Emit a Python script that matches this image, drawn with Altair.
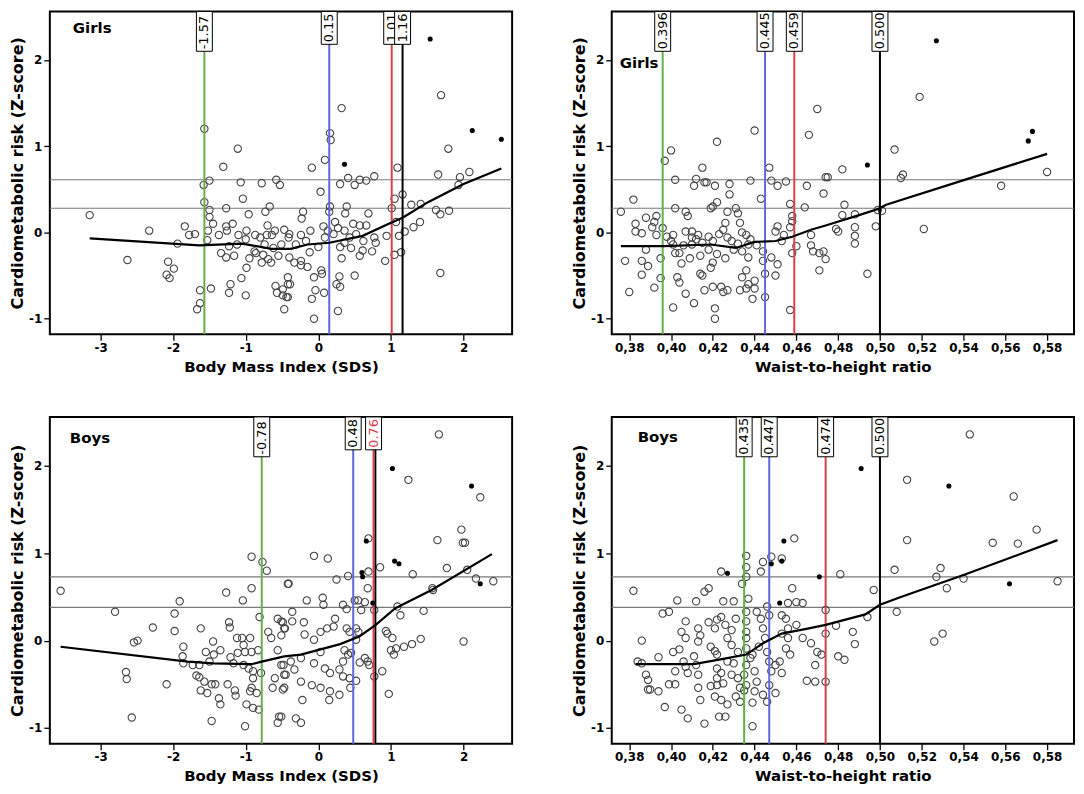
import altair as alt
import pandas as pd

FONT = "DejaVu Sans"
Y_TITLE = "Cardiometabolic risk (Z-score)"
Y_TICKS = [-1, 0, 1, 2]
Y_DOMAIN = [-1.18, 2.56]
BMI_DOMAIN = [-3.63, 2.6]
WHTR_DOMAIN = [0.374, 0.5905]
BMI_TICKS = [-3, -2, -1, 0, 1, 2]
WHTR_TICKS = [0.38, 0.40, 0.42, 0.44, 0.46, 0.48, 0.50, 0.52, 0.54, 0.56, 0.58]

# ---------------- Girls, BMI ----------------
g_bmi_open = [
    (-3.15, 0.20), (-2.33, 0.02), (-2.63, -0.32), (-1.84, 0.07), (-1.78, -0.03), (-1.70, -0.02),
    (-1.94, -0.13), (-2.07, -0.34), (-1.99, -0.42), (-2.09, -0.49), (-2.05, -0.53),
    (-1.57, 1.20), (-1.11, 0.97), (-1.31, 0.76), (-1.50, 0.60), (-1.58, 0.55), (-1.57, 0.35),
    (-1.50, 0.26), (-1.50, 0.18), (-1.27, 0.28), (-1.07, 0.58), (-0.78, 0.57), (-0.58, 0.61),
    (-0.53, 0.55), (-1.04, 0.39), (-0.96, 0.21), (-0.73, 0.24), (-0.67, 0.30),
    (-1.52, 0.02), (-1.37, -0.03), (-1.27, 0.07), (-1.26, 0.02), (-1.53, -0.09), (-1.34, -0.24),
    (-1.27, -0.29), (-1.16, -0.27), (-1.23, -0.16), (-1.12, -0.14), (-1.00, -0.08),
    (-1.10, -0.03), (-0.99, 0.02), (-0.87, -0.03), (-0.80, -0.06), (-0.71, -0.03), (-0.64, -0.03),
    (-0.60, 0.02), (-0.86, -0.24), (-0.76, -0.26), (-0.69, -0.31), (-0.65, -0.35), (-0.78, -0.35),
    (-0.99, -0.41), (-1.06, -0.53), (-1.21, -0.60), (-1.23, -0.70), (-1.00, -0.73), (-1.48, -0.65),
    (-1.63, -0.67), (-1.63, -0.82), (-1.67, -0.89), (-0.59, -0.62), (-0.57, -0.70), (-0.49, -0.73),
    (-0.42, -0.60), (-0.44, -0.75), (-0.47, -0.89), (-0.47, 0.03), (-0.41, -0.06), (-0.51, -0.14),
    (-0.88, -0.22), (-0.74, -0.14), (-0.62, -0.18), (-0.55, -0.27), (-0.95, -0.30), (-0.70, 0.08),
    (-1.18, 0.10), (-1.45, 0.10),
    (1.69, 1.59), (1.79, 0.97), (1.65, 0.67), (1.95, 0.64), (2.08, 0.70), (1.93, 0.55), (1.62, 0.26),
    (1.68, 0.21), (1.80, 0.25), (1.68, -0.47), (1.41, 0.33), (1.28, 0.32), (1.31, 0.06), (1.40, 0.12),
    (1.16, 0.44), (1.05, 0.39), (1.09, 0.75), (1.01, 0.28), (1.07, 0.12), (1.19, 0.01), (1.14, -0.23),
    (1.05, -0.26), (1.11, -0.04), (0.94, -0.04), (0.92, -0.33),
    (0.32, 1.44), (0.16, 1.15), (0.17, 1.07), (0.09, 0.84), (-0.09, 0.75), (0.30, 0.56), (0.41, 0.63),
    (0.50, 0.55), (0.57, 0.61), (0.66, 0.60), (0.77, 0.65), (0.03, 0.47), (0.16, 0.30), (0.15, 0.24),
    (0.39, 0.30), (0.37, 0.22), (0.69, 0.22), (-0.21, 0.24), (-0.23, 0.16),
    (0.66, 0.08), (0.57, 0.08), (0.48, 0.10), (0.23, 0.12), (0.07, 0.07), (-0.11, 0.02), (-0.24, -0.03),
    (-0.40, -0.02), (0.77, -0.06), (0.79, -0.12), (0.74, -0.22), (0.61, -0.21), (0.57, -0.27),
    (0.43, -0.06), (0.36, -0.12), (0.30, -0.17), (0.32, -0.30), (0.21, -0.02), (0.09, -0.06),
    (0.00, -0.17), (-0.12, -0.23), (-0.17, -0.10), (-0.31, -0.14),
    (0.04, -0.44), (0.05, -0.48), (-0.06, -0.52), (0.29, -0.51), (0.50, -0.50), (0.30, -0.63),
    (0.25, -0.60), (-0.42, -0.52), (-0.39, -0.60), (-0.49, -0.66), (-0.42, -0.75), (-0.09, -0.77),
    (-0.04, -0.67), (0.08, -0.70), (-0.06, -1.00), (0.27, -0.91),
    (-0.24, -0.33), (-0.33, -0.35), (-0.24, -0.38), (-0.15, -0.40), (-0.40, -0.29),
    (0.13, 0.02), (0.27, 0.05), (0.36, 0.02), (0.52, -0.02), (0.62, -0.10), (0.45, -0.18),
]
g_bmi_filled = [(1.54, 2.24), (2.12, 1.18), (2.52, 1.08), (0.36, 0.79)]
g_bmi_line_x = [-3.15, -1.64, -1.05, -0.65, -0.38, -0.15, 0.15, 0.61, 0.97, 1.16, 1.51, 2.00, 2.52]
g_bmi_line_y = [-0.07, -0.15, -0.13, -0.19, -0.19, -0.14, -0.12, -0.04, 0.10, 0.17, 0.35, 0.56, 0.74]
g_bmi_cuts = [-1.57, 0.15, 1.01, 1.16]
g_bmi_labels = ["-1.57", "0.15", "1.01", "1.16"]
g_bmi_hlines = [0.61, 0.28]

# ---------------- Girls, WHtR ----------------
g_whtr_open = [
    (0.376, 0.24), (0.382, 0.38), (0.383, 0.01), (0.378, -0.33), (0.380, -0.69), (0.386, -0.01),
    (0.386, -0.33), (0.389, -0.39), (0.386, -0.49), (0.388, 0.17), (0.391, 0.06), (0.393, -0.03),
    (0.393, 0.19), (0.392, -0.64), (0.395, -0.53), (0.397, 0.83), (0.400, 0.95), (0.402, 0.61),
    (0.402, 0.28), (0.401, -0.03), (0.401, -0.14), (0.400, -0.10), (0.402, -0.24), (0.404, -0.24),
    (0.405, -0.36), (0.403, -0.52), (0.404, -0.58), (0.401, -0.87), (0.407, 0.24), (0.408, 0.19),
    (0.407, 0.01), (0.410, 0.01), (0.410, -0.06), (0.413, -0.03), (0.410, -0.14), (0.407, -0.71),
    (0.411, -0.82), (0.411, 0.54), (0.412, 0.62), (0.416, 0.58), (0.417, 0.58), (0.415, 0.75),
    (0.421, 0.54), (0.420, 0.30), (0.419, 0.28), (0.422, 0.35), (0.422, 1.05), (0.426, 0.11),
    (0.427, 0.24), (0.428, 0.44), (0.428, 0.56), (0.431, 0.28), (0.432, 0.22), (0.433, 0.11),
    (0.436, -0.03), (0.437, -0.14), (0.434, -0.22), (0.437, -0.29), (0.414, -0.48), (0.415, -0.50),
    (0.416, -0.67), (0.419, -0.41), (0.420, -0.35), (0.420, -0.63), (0.424, -0.63), (0.425, -0.69),
    (0.421, -0.88), (0.421, -1.00), (0.427, -0.67), (0.433, -0.67), (0.436, -0.65), (0.437, -0.60),
    (0.440, -0.56), (0.440, -0.65), (0.439, -0.77), (0.434, -0.52), (0.436, -0.44), (0.438, 0.60),
    (0.440, 1.18), (0.443, 0.39), (0.447, 0.75), (0.448, 0.60), (0.451, 0.54), (0.455, 0.59),
    (0.445, -0.75), (0.444, -0.22), (0.444, -0.33), (0.445, -0.48), (0.448, -0.29), (0.450, -0.50),
    (0.451, -0.37), (0.450, 0.01), (0.451, 0.07), (0.454, -0.03), (0.453, -0.10), (0.457, 0.33),
    (0.458, 0.19), (0.458, 0.13), (0.457, 0.06), (0.458, -0.24), (0.460, -0.16), (0.457, -0.90),
    (0.465, 0.54), (0.464, 0.29), (0.466, 1.13), (0.470, 1.43), (0.474, 0.64), (0.473, 0.45),
    (0.467, -0.03), (0.467, -0.15), (0.468, -0.22), (0.471, -0.24), (0.473, -0.22), (0.471, -0.44),
    (0.412, -0.08), (0.415, -0.12), (0.418, -0.05), (0.420, -0.10), (0.423, -0.02), (0.425, 0.03),
    (0.427, -0.06), (0.429, -0.10), (0.430, -0.20), (0.432, -0.13), (0.418, -0.20), (0.414, -0.27),
    (0.422, -0.25), (0.426, -0.30), (0.409, -0.30), (0.406, -0.15), (0.434, 0.00), (0.438, -0.08),
    (0.441, -0.15), (0.398, -0.05), (0.396, 0.05), (0.392, 0.12), (0.383, 0.10), (0.388, -0.20),
    (0.395, -0.30),
    (0.519, 1.57), (0.507, 0.96), (0.482, 0.73), (0.475, 0.64), (0.511, 0.67), (0.510, 0.63),
    (0.580, 0.70), (0.558, 0.54), (0.483, 0.32), (0.482, 0.20), (0.488, 0.21), (0.499, 0.26),
    (0.501, 0.25), (0.498, 0.07), (0.479, 0.04), (0.480, 0.01), (0.488, 0.06), (0.488, -0.04),
    (0.488, -0.13), (0.521, 0.04), (0.474, -0.31), (0.494, -0.48),
]
g_whtr_filled = [(0.527, 2.22), (0.494, 0.78), (0.571, 1.06), (0.573, 1.17)]
g_whtr_line_x = [0.376, 0.397, 0.419, 0.431, 0.440, 0.450, 0.458, 0.467, 0.474, 0.490, 0.499, 0.503, 0.542, 0.580]
g_whtr_line_y = [-0.16, -0.16, -0.14, -0.18, -0.11, -0.10, -0.05, 0.03, 0.08, 0.20, 0.27, 0.32, 0.62, 0.91]
g_whtr_cuts = [0.396, 0.445, 0.459, 0.500]
g_whtr_labels = ["0.396", "0.445", "0.459", "0.500"]
g_whtr_hlines = [0.61, 0.28]

# ---------------- Boys, BMI ----------------
b_bmi_open = [
    (-3.55, 0.57), (-2.80, 0.33), (-2.54, -0.02), (-2.49, 0.00), (-2.28, 0.15), (-2.65, -0.36),
    (-2.64, -0.44), (-2.57, -0.88), (-2.09, -0.50), (-1.91, 0.45), (-1.98, 0.31), (-1.98, 0.11),
    (-1.86, -0.07), (-1.87, -0.18), (-1.86, -0.26), (-1.62, 0.14), (-1.23, 0.21), (-1.22, 0.15),
    (-1.27, 0.55), (-1.04, 0.46), (-0.92, 0.60), (-0.92, 0.96), (-0.77, 0.90), (-0.71, 0.80),
    (-0.42, 0.65), (-0.81, 0.27), (-1.45, -0.01), (-1.55, -0.13), (-1.44, -0.16), (-1.35, -0.11),
    (-1.50, -0.24), (-1.64, -0.28), (-1.73, -0.28), (-1.68, -0.40), (-1.64, -0.42), (-1.57, -0.47),
    (-1.47, -0.50), (-1.42, -0.50), (-1.62, -0.57), (-1.53, -0.60), (-1.37, -0.66), (-1.35, -0.73),
    (-1.25, -0.50), (-1.15, -0.57), (-1.14, -0.63), (-1.47, -0.92), (-1.01, -0.98), (-0.99, -0.73),
    (-0.90, -0.77), (-0.82, -0.79), (-0.92, -0.54), (-0.94, -0.58), (-0.90, -0.43), (-0.85, -0.60),
    (-1.12, 0.03), (-1.05, 0.03), (-1.03, -0.05), (-0.94, 0.03), (-1.01, -0.13), (-0.92, -0.13),
    (-0.83, -0.11), (-1.21, -0.19), (-1.17, -0.26), (-1.03, -0.28), (-0.96, -0.32), (-0.90, -0.35),
    (-0.79, -0.37), (-1.11, -0.14), (-0.69, 0.10), (-0.65, 0.03), (-0.56, 0.25), (-0.51, 0.22),
    (-0.47, 0.14), (-0.51, 0.06), (-0.56, -0.11), (-0.51, -0.28), (-0.47, -0.39), (-0.60, -0.43),
    (-0.63, -0.54), (-0.49, -0.56), (-0.54, -0.87), (-0.56, -0.94),
    (1.66, 2.36), (1.24, 1.84), (2.23, 1.64), (1.97, 1.27), (1.64, 1.15), (1.99, 1.12), (2.02, 1.12),
    (0.69, 1.17), (-0.06, 0.97), (0.13, 0.94), (0.69, 0.79), (0.85, 0.84), (1.30, 0.76), (1.77, 0.83),
    (2.05, 0.81), (2.17, 0.71), (2.41, 0.68), (1.57, 0.60), (1.58, 0.58), (1.45, 0.34), (2.00, -0.01),
    (-0.41, 0.65), (0.25, 0.70), (0.41, 0.74), (0.68, 0.60), (-0.16, 0.46), (0.06, 0.49), (0.07, 0.41),
    (0.34, 0.41), (0.39, 0.36), (0.50, 0.46), (0.55, 0.46), (0.59, 0.35), (0.64, 0.44), (0.77, 0.35),
    (-0.36, 0.33), (-0.20, 0.21), (-0.36, 0.22), (-0.49, 0.21), (-0.46, 0.14), (-0.19, 0.07),
    (-0.06, 0.01), (0.03, 0.10), (0.12, 0.14), (0.21, 0.16), (0.23, 0.25), (0.39, 0.14), (0.43, 0.10),
    (0.52, 0.14), (0.55, 0.10), (0.52, 0.01), (0.36, -0.11), (0.34, -0.24), (0.41, -0.16),
    (0.45, -0.14), (0.57, -0.25), (0.64, -0.20), (0.68, -0.24), (0.70, -0.28), (0.43, -0.43),
    (0.52, -0.46), (0.44, -0.54), (0.88, -0.35), (0.77, -0.41), (0.97, -0.61), (0.93, 0.11),
    (0.95, 0.08), (1.02, 0.03), (1.00, -0.11), (1.04, -0.16), (1.07, -0.09), (1.18, -0.07),
    (1.29, -0.04), (1.41, 0.02), (1.09, 0.39), (1.13, 0.29), (0.03, -0.13), (-0.06, -0.26),
    (0.09, -0.32), (0.16, -0.37), (0.29, -0.33), (0.34, -0.41), (-0.09, -0.51), (0.03, -0.54),
    (0.16, -0.58), (0.15, -0.68), (0.29, -0.62), (-0.22, -0.68), (-0.31, -0.89), (-0.24, -0.94),
    (-0.51, -0.87), (-0.38, -0.24), (-0.45, -0.39), (-0.48, -0.28), (-0.24, -0.20), (-0.33, -0.33),
    (-0.24, -0.47), (-0.47, -0.54),
]
b_bmi_filled = [(1.02, 1.97), (2.11, 1.77), (0.66, 1.14), (1.05, 0.91), (1.11, 0.88),
                (0.60, 0.78), (0.61, 0.73), (2.23, 0.65), (0.75, 0.43)]
b_bmi_line_x = [-3.55, -1.80, -1.45, -0.92, -0.78, -0.47, -0.24, 0.30, 0.57, 0.79, 1.06, 1.56, 2.39]
b_bmi_line_y = [-0.07, -0.24, -0.26, -0.27, -0.24, -0.18, -0.16, -0.04, 0.05, 0.18, 0.37, 0.58, 0.99]
b_bmi_cuts = [-0.78, 0.48, 0.785, 0.76]
b_bmi_labels = ["-0.78", "0.48", "", "0.76"]
b_bmi_hlines = [0.73, 0.38]

# ---------------- Boys, WHtR ----------------
b_whtr_open = [
    (0.382, 0.57), (0.386, 0.00), (0.384, -0.24), (0.386, -0.26), (0.388, -0.39), (0.389, -0.45),
    (0.390, -0.56), (0.389, -0.56), (0.394, -0.58), (0.394, -0.19), (0.397, -0.76), (0.396, 0.31),
    (0.399, 0.33), (0.399, -0.50), (0.402, -0.50), (0.401, -0.13), (0.404, -0.10), (0.402, -0.35),
    (0.403, 0.46), (0.407, 0.22), (0.405, 0.10), (0.407, 0.03), (0.406, -0.24), (0.407, -0.30),
    (0.408, -0.37), (0.405, -0.79), (0.408, -0.89), (0.412, 0.45), (0.413, 0.14), (0.414, 0.06),
    (0.413, -0.01), (0.411, -0.18), (0.412, -0.28), (0.413, -0.39), (0.413, -0.54), (0.414, -0.68),
    (0.416, -0.95), (0.416, 0.56), (0.418, 0.60), (0.418, 0.21), (0.421, 0.14), (0.422, 0.24),
    (0.419, -0.07), (0.421, -0.12), (0.422, -0.16), (0.422, -0.32), (0.424, -0.37), (0.422, -0.43),
    (0.419, -0.52), (0.422, -0.51), (0.425, -0.49), (0.421, -0.64), (0.424, -0.68), (0.427, -0.73),
    (0.423, -0.87), (0.426, -0.87), (0.424, 0.79), (0.425, 0.45), (0.430, 0.45), (0.424, 0.27),
    (0.426, 0.18), (0.429, 0.12), (0.431, 0.25), (0.427, 0.03), (0.429, -0.05), (0.432, -0.13),
    (0.427, -0.24), (0.430, -0.26), (0.429, -0.39), (0.432, -0.43), (0.433, -0.54), (0.435, -0.57),
    (0.431, -0.64), (0.433, -0.70), (0.436, 0.97), (0.436, 0.84), (0.436, 0.73), (0.434, 0.65),
    (0.437, 0.48), (0.436, 0.33), (0.436, 0.22), (0.436, 0.10), (0.436, 0.03), (0.436, -0.09),
    (0.436, -0.28), (0.435, -0.39), (0.436, -0.51), (0.438, -0.20), (0.439, -0.16), (0.440, -0.35),
    (0.441, -0.47), (0.440, -0.58), (0.439, -0.71), (0.439, -0.98), (0.443, 0.79), (0.444, 0.90),
    (0.441, 0.33), (0.443, 0.25), (0.444, 0.14), (0.446, 0.39), (0.447, 0.29), (0.445, 0.03),
    (0.442, -0.07), (0.446, -0.13), (0.447, -0.24), (0.448, -0.35), (0.450, -0.28), (0.452, -0.24),
    (0.447, -0.51), (0.450, -0.60), (0.444, -0.62), (0.446, -0.70), (0.448, 0.96), (0.453, 0.94),
    (0.459, 1.17), (0.458, 0.60), (0.456, 0.43), (0.460, 0.44), (0.463, 0.43), (0.453, 0.29),
    (0.455, 0.25), (0.456, 0.14), (0.460, 0.18), (0.453, 0.08), (0.456, 0.03), (0.455, -0.09),
    (0.457, -0.16), (0.453, -0.37), (0.467, -0.03), (0.463, 0.03), (0.470, -0.13), (0.472, -0.16),
    (0.469, -0.28), (0.469, -0.47), (0.465, -0.46), (0.474, 0.35), (0.474, 0.08), (0.474, -0.47),
    (0.543, 2.36), (0.513, 1.84), (0.564, 1.65), (0.575, 1.27), (0.513, 1.15), (0.554, 1.12),
    (0.566, 1.11), (0.481, 0.76), (0.507, 0.81), (0.529, 0.83), (0.527, 0.73), (0.532, 0.60),
    (0.540, 0.71), (0.585, 0.68), (0.497, 0.58), (0.508, 0.33), (0.494, 0.27), (0.479, 0.17),
    (0.487, 0.10), (0.488, -0.04), (0.480, -0.18), (0.483, -0.22), (0.530, 0.08), (0.526, -0.01),
]
b_whtr_filled = [(0.427, 0.77), (0.448, 0.88), (0.453, 0.91), (0.454, 1.14), (0.452, 0.43),
                 (0.471, 0.73), (0.491, 1.97), (0.533, 1.77), (0.562, 0.65)]
b_whtr_line_x = [0.383, 0.411, 0.425, 0.436, 0.444, 0.453, 0.466, 0.474, 0.493, 0.500, 0.510, 0.540, 0.585]
b_whtr_line_y = [-0.27, -0.27, -0.21, -0.16, -0.03, 0.08, 0.14, 0.18, 0.30, 0.41, 0.50, 0.75, 1.15]
b_whtr_cuts = [0.435, 0.447, 0.474, 0.500]
b_whtr_labels = ["0.435", "0.447", "0.474", "0.500"]
b_whtr_hlines = [0.73, 0.38]

CUT_COLORS = ["#62b046", "#6565dd", "#d8414c", "#000000"]
B_BMI_COLORS = ["#62b046", "#6565dd", "#000000", "#d8414c"]

BMI_LABEL = "'' + datum.value"
WHTR_LABEL = "replace(format(datum.value, '.2f'), '.', ',')"


def build_panel(open_pts, filled_pts, line_x, line_y, cuts, labels, colors, hlines,
                xdom, xticks, xlabel_expr, xtitle, group, gx, gy, w, h, text_colors=None):
    xs = alt.Scale(domain=xdom, nice=False, zero=False)
    ys = alt.Scale(domain=Y_DOMAIN, nice=False, zero=False)
    xaxis = alt.Axis(values=xticks, labelExpr=xlabel_expr, title=xtitle, grid=False,
                     domain=False, tickSize=6, tickColor="black", tickWidth=1.3,
                     labelFont=FONT, labelFontSize=12, labelFontWeight="bold", labelColor="black",
                     labelPadding=2, titleFont=FONT, titleFontSize=15, titleFontWeight="bold",
                     titleColor="black", titlePadding=6)
    yaxis = alt.Axis(values=Y_TICKS, labelExpr="'' + datum.value", title=Y_TITLE, grid=False,
                     domain=False, tickSize=6, tickColor="black", tickWidth=1.3,
                     labelFont=FONT, labelFontSize=12, labelFontWeight="bold", labelColor="black",
                     labelPadding=2, titleFont=FONT, titleFontSize=16, titleFontWeight="bold",
                     titleColor="black", titlePadding=3)

    def X():
        return alt.X("x:Q", scale=xs, axis=xaxis)

    def Y():
        return alt.Y("y:Q", scale=ys, axis=yaxis)

    df_open = pd.DataFrame(open_pts, columns=["x", "y"])
    df_fill = pd.DataFrame(filled_pts, columns=["x", "y"])
    df_line = pd.DataFrame({"x": line_x, "y": line_y, "i": list(range(len(line_x)))})
    df_h = pd.DataFrame({"y": hlines})
    if text_colors is None:
        text_colors = ["black"] * len(cuts)
    df_cut = pd.DataFrame({"x": cuts, "c": colors, "label": labels, "tc": text_colors})

    layers = []
    layers.append(alt.Chart(df_h).mark_rule(color="#7a7a7a", strokeWidth=1.2).encode(y=Y()))
    layers.append(alt.Chart(df_open).mark_point(shape="circle", filled=False, size=54,
                                                color="#444444", strokeWidth=1.1, opacity=1)
                  .encode(x=X(), y=Y()))
    layers.append(alt.Chart(df_cut).mark_rule(strokeWidth=2).encode(
        x=X(), color=alt.Color("c:N", scale=None)))
    layers.append(alt.Chart(df_line).mark_line(color="black", strokeWidth=2.2).encode(
        x=X(), y=Y(), order="i:Q"))
    layers.append(alt.Chart(df_fill).mark_circle(size=26, color="black", opacity=1).encode(
        x=X(), y=Y()))
    for i in range(len(df_cut)):
        lab = df_cut["label"].iloc[i]
        if not lab:
            continue
        sub = df_cut.iloc[[i]]
        bh = round(7.4 * len(lab)) + 3
        layers.append(alt.Chart(sub).mark_bar(width=16, fill="white", stroke="black",
                                              strokeWidth=1, orient="vertical")
                      .encode(x=X(), y=alt.value(0), y2=alt.value(bh)))
        layers.append(alt.Chart(sub).mark_text(angle=270, align="left", baseline="middle",
                                               font=FONT, fontSize=13)
                      .encode(x=X(), y=alt.value(bh - 2), text="label:N",
                              color=alt.Color("tc:N", scale=None)))
    layers.append(alt.Chart(pd.DataFrame({"t": [group]})).mark_text(
        align="left", baseline="middle", font=FONT, fontSize=15, fontWeight="bold",
        color="black").encode(x=alt.value(gx), y=alt.value(gy), text="t:N"))
    return alt.layer(*layers).properties(width=w, height=h)


W = 464
p1 = build_panel(g_bmi_open, g_bmi_filled, g_bmi_line_x, g_bmi_line_y, g_bmi_cuts, g_bmi_labels,
                 CUT_COLORS, g_bmi_hlines, BMI_DOMAIN, BMI_TICKS, BMI_LABEL,
                 "Body Mass Index (SDS)", "Girls", 23, 17, W, 324)
p2 = build_panel(g_whtr_open, g_whtr_filled, g_whtr_line_x, g_whtr_line_y, g_whtr_cuts,
                 g_whtr_labels, CUT_COLORS, g_whtr_hlines, WHTR_DOMAIN, WHTR_TICKS, WHTR_LABEL,
                 "Waist-to-height ratio", "Girls", 8, 52, W, 324)
p3 = build_panel(b_bmi_open, b_bmi_filled, b_bmi_line_x, b_bmi_line_y, b_bmi_cuts, b_bmi_labels,
                 B_BMI_COLORS, b_bmi_hlines, BMI_DOMAIN, BMI_TICKS, BMI_LABEL,
                 "Body Mass Index (SDS)", "Boys", 20, 21, W, 328,
                 text_colors=["black", "black", "black", "#d8414c"])
p4 = build_panel(b_whtr_open, b_whtr_filled, b_whtr_line_x, b_whtr_line_y, b_whtr_cuts,
                 b_whtr_labels, CUT_COLORS, b_whtr_hlines, WHTR_DOMAIN, WHTR_TICKS, WHTR_LABEL,
                 "Waist-to-height ratio", "Boys", 26, 20, W, 328)

row1 = alt.hconcat(p1, p2, spacing=56)
row2 = alt.hconcat(p3, p4, spacing=56)
chart = alt.vconcat(row1, row2, spacing=40).properties(
    padding={"left": 0, "top": 0, "right": 0, "bottom": 0}
).configure_view(stroke="black", strokeWidth=2)

chart.save("out.html", embed_options={"renderer": "svg", "actions": False})
